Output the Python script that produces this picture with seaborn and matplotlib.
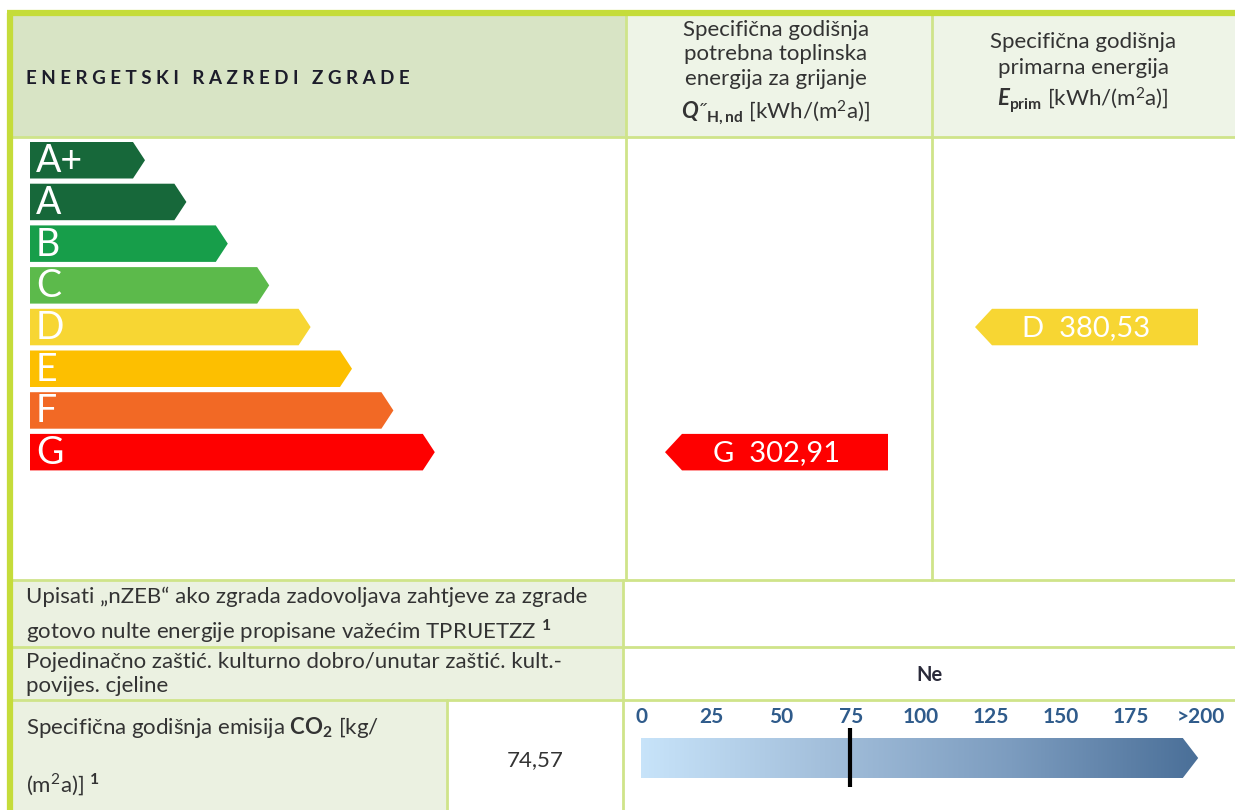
import numpy as np
import seaborn as sns
import matplotlib.pyplot as plt
from matplotlib.patches import Polygon, Rectangle

sns.set_theme(style="white")
plt.rcParams['font.family'] = ['Lato', 'DejaVu Sans']
plt.rcParams['mathtext.fontset'] = 'custom'
plt.rcParams['mathtext.rm'] = 'Lato'
plt.rcParams['mathtext.bf'] = 'Lato:bold'
plt.rcParams['mathtext.it'] = 'Lato:italic'
plt.rcParams['mathtext.bfit'] = 'Lato:bold:italic'

# data
classes = ["A+", "A", "B", "C", "D", "E", "F", "G"]
class_colors = ["#17683a", "#17683a", "#179e4a", "#5cba4b",
                "#f7d633", "#fdbf00", "#f26925", "#fe0000"]
q_hnd = 302.91
q_hnd_class = "G"
e_prim = 380.53
e_prim_class = "D"
co2 = 74.57
co2_ticks = [0, 25, 50, 75, 100, 125, 150, 175, 200]
co2_tick_labels = ["0", "25", "50", "75", "100", "125", "150", "175", ">200"]
nzeb_value = ""
heritage_value = "Ne"

LIME = "#c5dc3a"
LINE = "#cfe48a"
HEAD = "#d8e4c5"
HEAD2 = "#eef4e7"
CELL = "#ebf1e1"
TXT = "#333333"

fig = plt.figure(figsize=(12.35, 8.10), dpi=100)
ax = fig.add_axes([0, 0, 1, 1])
ax.set_xlim(0, 1235)
ax.set_ylim(810, 0)
ax.axis('off')


def box(x0, y0, x1, y1, color):
    ax.add_patch(Rectangle((x0, y0), x1 - x0, y1 - y0, facecolor=color,
                           edgecolor='none', zorder=1))


# cell fills
box(12, 15, 626, 137, HEAD)
box(626, 15, 1235, 137, HEAD2)
box(12, 580, 623, 700, CELL)
box(12, 700, 447, 810, CELL)

# grid lines
kw = dict(color=LINE, lw=2, zorder=2)
for y in (137, 580, 647, 700):
    ax.plot([12, 1235], [y, y], **kw)
ax.plot([626, 626], [15, 580], **kw)
ax.plot([932, 932], [15, 580], **kw)
ax.plot([623, 623], [580, 810], **kw)
ax.plot([447, 447], [700, 810], **kw)
# outer border
ax.plot([9.5, 9.5], [13, 810], color=LIME, lw=4.5, zorder=3, solid_capstyle='butt')
ax.plot([7, 1235], [12.5, 12.5], color=LIME, lw=4.5, zorder=3, solid_capstyle='butt')

# header texts
ax.text(26, 78, "E N E R G E T S K I   R A Z R E D I   Z G R A D E", fontsize=13.5,
        fontweight='bold', color="#1c1c2a", va='center', ha='left')
mid = dict(fontsize=16, color=TXT, ha='center', va='center')
ax.text(776, 30, "Specifična godišnja", **mid)
ax.text(776, 54, "potrebna toplinska", **mid)
ax.text(776, 79, "energija za grijanje", **mid)
ax.text(776, 113, r"$\mathbfit{Q}$˝$_{\mathbf{H,nd}}$ [kWh/(m$^2$a)]", **mid)
ax.text(1083, 42, "Specifična godišnja", **mid)
ax.text(1083, 68, "primarna energija", **mid)
ax.text(1083, 100, r"$\mathbfit{E}_{\mathbf{prim}}$ [kWh/(m$^2$a)]", **mid)

# class arrows
top0, pitch, h = 142, 41.7, 36.5
x0, len0, step, tip = 30, 103, 41.4, 12
for i, (c, col) in enumerate(zip(classes, class_colors)):
    t = top0 + i * pitch
    xe = x0 + len0 + i * step
    ax.add_patch(Polygon([(x0, t), (xe, t), (xe + tip, t + h / 2), (xe, t + h), (x0, t + h)],
                         closed=True, facecolor=col, edgecolor='none', zorder=4))
    ax.text(x0 + 6, t + h / 2 + 1, c, color='white', fontsize=27, va='center',
            ha='left', zorder=5)


def indicator(xl, xr, cls, value):
    i = classes.index(cls)
    t = top0 + i * pitch
    col = class_colors[i]
    ax.add_patch(Polygon([(xl, t + h / 2), (xl + 17, t), (xr, t), (xr, t + h), (xl + 17, t + h)],
                         closed=True, facecolor=col, edgecolor='none', zorder=4))
    ax.text((xl + xr) / 2, t + h / 2 + 1, f"{cls}  {value:.2f}".replace('.', ','),
            color='white', fontsize=21, va='center', ha='center', zorder=5)


indicator(665, 888, q_hnd_class, q_hnd)
indicator(975, 1198, e_prim_class, e_prim)

# lower rows
row = dict(fontsize=16, color=TXT, ha='left', va='center')
ax.text(26, 597, "Upisati „nZEB“ ako zgrada zadovoljava zahtjeve za zgrade", **row)
ax.text(26, 631, "gotovo nulte energije propisane važećim TPRUETZZ $^{\\mathbf{1}}$", **row)
ax.text(26, 662, "Pojedinačno zaštić. kulturno dobro/unutar zaštić. kult.-", **row)
ax.text(26, 686, "povijes. cjeline", **row)
ax.text(26, 728, r"Specifična godišnja emisija $\mathbf{CO_2}$ [kg/", **row)
ax.text(26, 785, r"(m$^2$a)] $^{\mathbf{1}}$", **row)
ax.text(535, 760, f"{co2:.2f}".replace('.', ','), fontsize=16, color=TXT,
        ha='center', va='center')
ax.text(930, 675, heritage_value, fontsize=14.5, color="#2a2a3a", ha='center',
        va='center', fontweight='bold')
ax.text(930, 613, nzeb_value, fontsize=15, color=TXT, ha='center', va='center')

# CO2 scale in value coordinates
px0, px1 = 641, 1201
sax = fig.add_axes([px0 / 1235, 1 - 810 / 810, (px1 - px0) / 1235, 110 / 810])
sax.set_xlim(0, 200)
sax.set_ylim(110, 0)
sax.axis('off')
sax.patch.set_alpha(0)
cmap = sns.blend_palette(["#c8e4fa", "#a3bfdb", "#7c9cbf", "#4a6f98"], as_cmap=True)
shape = Polygon([(-1, 38), (193.5, 38), (199, 58), (193.5, 78), (-1, 78)], closed=True,
                facecolor='none', edgecolor='none', transform=sax.transData)
sax.add_patch(shape)
img = sax.imshow(np.linspace(0, 1, 256)[None, :], extent=[-1, 199, 78, 38], cmap=cmap,
                 aspect='auto', zorder=1)
img.set_clip_path(shape)
sax.set_xlim(0, 200)
sax.set_ylim(110, 0)
for v, lab in zip(co2_ticks, co2_tick_labels):
    sax.text(v, 17, lab, fontsize=15, fontweight='bold', color="#2f5b8b",
             ha='center', va='center')
sax.plot([co2, co2], [28, 87], color='black', lw=3, zorder=3, solid_capstyle='butt')

fig.savefig("out.png", dpi=100)
